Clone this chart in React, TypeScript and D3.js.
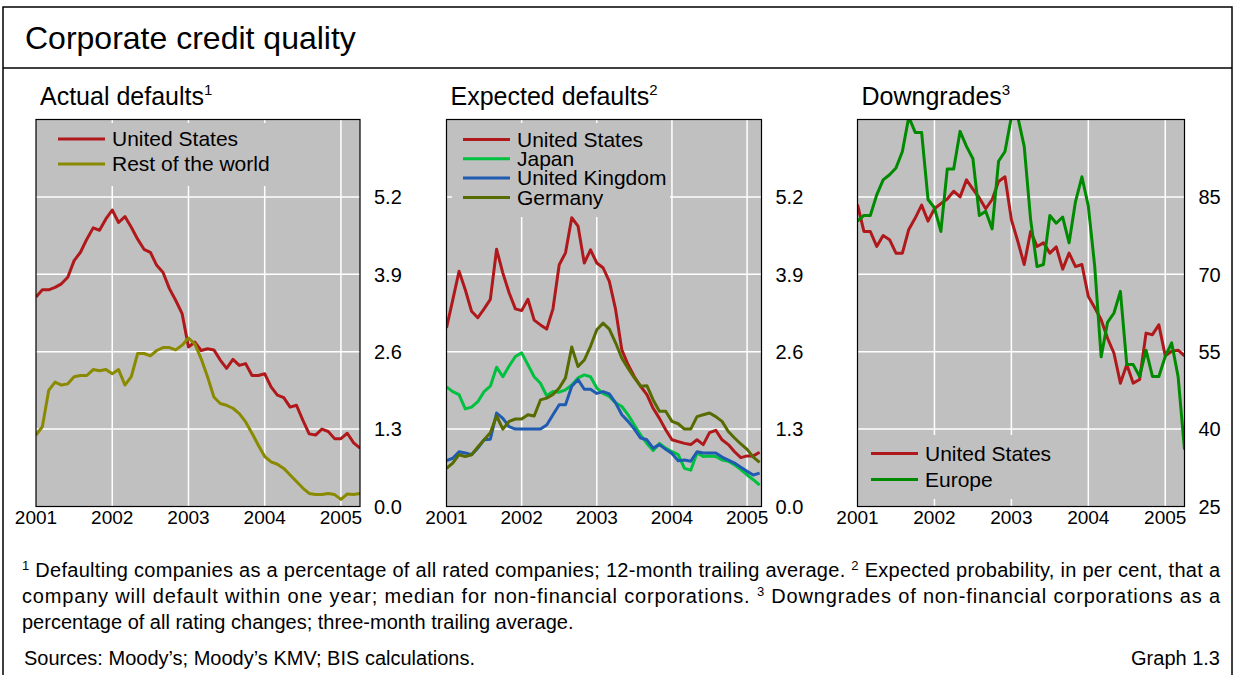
import React from 'react';
import * as d3 from 'd3';

// monthly observations, starting January 2001
const years = ['2001', '2002', '2003', '2004', '2005'];
const defaultTicks = [0, 1.3, 2.6, 3.9, 5.2];
const downgradeTicks = [25, 40, 55, 70, 85];

const actualUS = [3.52, 3.64, 3.64, 3.68, 3.74, 3.85, 4.13, 4.27, 4.49, 4.68, 4.64, 4.83, 4.98, 4.77, 4.87, 4.69, 4.49, 4.32, 4.27, 4.05, 3.93, 3.66, 3.46, 3.24, 2.68, 2.76, 2.62, 2.65, 2.63, 2.46, 2.32, 2.47, 2.37, 2.4, 2.2, 2.2, 2.23, 2.01, 1.87, 1.83, 1.67, 1.7, 1.45, 1.22, 1.2, 1.3, 1.26, 1.14, 1.14, 1.23, 1.07, 0.98];
const actualRoW = [1.2, 1.34, 1.95, 2.09, 2.04, 2.06, 2.18, 2.2, 2.2, 2.3, 2.28, 2.3, 2.23, 2.3, 2.04, 2.18, 2.57, 2.57, 2.53, 2.62, 2.67, 2.67, 2.63, 2.71, 2.83, 2.73, 2.48, 2.18, 1.84, 1.73, 1.7, 1.65, 1.56, 1.42, 1.23, 1.03, 0.84, 0.75, 0.71, 0.64, 0.53, 0.42, 0.31, 0.22, 0.2, 0.2, 0.22, 0.2, 0.12, 0.21, 0.2, 0.22];

const expectedUS = [3.0, 3.47, 3.95, 3.64, 3.28, 3.17, 3.32, 3.48, 4.32, 3.92, 3.59, 3.32, 3.29, 3.48, 3.13, 3.05, 2.98, 3.32, 4.06, 4.26, 4.85, 4.71, 4.09, 4.31, 4.09, 4.01, 3.78, 3.31, 2.63, 2.38, 2.18, 2.02, 1.88, 1.65, 1.48, 1.29, 1.12, 1.09, 1.06, 1.04, 1.12, 1.04, 1.24, 1.28, 1.12, 1.04, 0.92, 0.82, 0.85, 0.85, 0.91];
const expectedJapan = [2.01, 1.93, 1.88, 1.64, 1.67, 1.76, 1.93, 2.02, 2.34, 2.18, 2.36, 2.52, 2.58, 2.38, 2.18, 2.07, 1.86, 1.93, 1.92, 1.96, 2.04, 2.16, 2.21, 2.18, 1.99, 1.9, 1.85, 1.74, 1.68, 1.54, 1.37, 1.2, 1.06, 0.94, 1.06, 0.98, 0.92, 0.87, 0.64, 0.61, 0.9, 0.84, 0.85, 0.84, 0.78, 0.76, 0.7, 0.62, 0.53, 0.45, 0.36];
const expectedUK = [0.77, 0.81, 0.92, 0.9, 0.87, 0.98, 1.12, 1.13, 1.57, 1.48, 1.34, 1.3, 1.3, 1.3, 1.3, 1.3, 1.37, 1.54, 1.71, 1.71, 2.02, 2.13, 1.97, 1.97, 1.9, 1.93, 1.89, 1.74, 1.54, 1.43, 1.3, 1.15, 1.12, 0.98, 1.04, 0.96, 0.89, 0.77, 0.78, 0.76, 0.92, 0.9, 0.9, 0.9, 0.83, 0.78, 0.73, 0.66, 0.59, 0.53, 0.56];
const expectedGermany = [0.64, 0.73, 0.87, 0.84, 0.87, 1.0, 1.12, 1.24, 1.52, 1.3, 1.43, 1.47, 1.47, 1.54, 1.52, 1.79, 1.82, 1.88, 1.99, 2.16, 2.68, 2.35, 2.46, 2.69, 2.97, 3.08, 2.98, 2.75, 2.49, 2.32, 2.16, 2.02, 2.03, 1.79, 1.6, 1.6, 1.43, 1.39, 1.3, 1.3, 1.51, 1.54, 1.57, 1.51, 1.43, 1.26, 1.15, 1.05, 0.96, 0.83, 0.74];

const downgradesUS = [83.5, 78.3, 78.3, 75.4, 77.5, 76.7, 74.1, 74.1, 78.7, 80.9, 83.4, 80.3, 82.7, 83.7, 84.6, 86.1, 85.0, 88.3, 86.5, 84.8, 82.7, 84.5, 88.0, 88.9, 80.6, 76.4, 71.9, 78.3, 75.4, 76.1, 74.1, 75.3, 71.0, 74.1, 71.5, 71.9, 65.7, 63.5, 61.2, 57.6, 54.7, 48.9, 52.5, 48.9, 49.6, 58.6, 58.3, 60.2, 54.2, 55.1, 55.3, 54.2];
const downgradesEurope = [80.3, 81.4, 81.4, 85.4, 88.3, 89.3, 90.6, 93.8, 100.5, 97.5, 97.5, 84.5, 82.9, 78.3, 90.4, 90.4, 97.7, 94.8, 92.4, 81.4, 82.2, 78.8, 91.9, 93.8, 100.5, 100.5, 94.8, 80.6, 71.5, 71.9, 81.4, 79.9, 81.1, 76.1, 84.1, 88.9, 83.2, 71.5, 54.0, 60.7, 62.5, 66.7, 52.5, 52.5, 50.2, 55.3, 50.2, 50.2, 54.1, 56.7, 50.2, 36.0];

const FONT = '"Liberation Sans", Arial, Helvetica, sans-serif';
const RED = '#b0191c';
const TOP = 119.5;
const BOTTOM = 506.5;

type Series = { name: string; color: string; values: number[] };

type PanelProps = {
  id: string;
  title: string;
  note: string;
  left: number;
  right: number;
  xMax: number;
  yDomain: [number, number];
  ticks: number[];
  fmt: (v: number) => string;
  series: Series[];
  legend: { x: number; y: number; step: number; box: [number, number, number, number] };
};

function Panel({ id, title, note, left, right, xMax, yDomain, ticks, fmt, series, legend }: PanelProps) {
  const x = d3.scaleLinear().domain([0, xMax]).range([left, right]);
  const y = d3.scaleLinear().domain(yDomain).range([BOTTOM, TOP]);
  const line = d3.line<number>().x((_, i) => x(i)).y((d) => y(d));
  const yearMonths = years.map((_, i) => i * 12);
  const [bx, by, bw, bh] = legend.box;

  return (
    <g>
      <defs>
        <clipPath id={`clip-${id}`}>
          <rect x={left} y={TOP} width={right - left} height={BOTTOM - TOP} />
        </clipPath>
      </defs>
      <text x={left + 4} y={105} fontSize={25}>
        {title}
        <tspan fontSize={15} dy={-10}>{note}</tspan>
      </text>
      <rect x={left} y={TOP} width={right - left} height={BOTTOM - TOP} fill="#c0c0c0" />
      {ticks.filter((t) => t !== yDomain[0]).map((t) => (
        <line key={t} x1={left} x2={right} y1={y(t)} y2={y(t)} stroke="#fff" strokeWidth={1.5} />
      ))}
      {yearMonths.slice(1).map((m) => (
        <line key={m} x1={x(m)} x2={x(m)} y1={TOP} y2={BOTTOM} stroke="#fff" strokeWidth={1.5} />
      ))}
      <rect x={bx} y={by} width={bw} height={bh} fill="#c0c0c0" />
      <g clipPath={`url(#clip-${id})`}>
        {series.map((s) => (
          <path key={s.name} d={line(s.values) ?? ''} fill="none" stroke={s.color} strokeWidth={3} strokeLinejoin="round" />
        ))}
      </g>
      <rect x={left} y={TOP} width={right - left} height={BOTTOM - TOP} fill="none" stroke="#000" strokeWidth={1.2} />
      {series.map((s, i) => (
        <g key={s.name} transform={`translate(${legend.x},${legend.y + i * legend.step})`}>
          <line x1={0} x2={47} y1={0} y2={0} stroke={s.color} strokeWidth={3} />
          <text x={54} y={0} dy="0.35em" fontSize={21}>{s.name}</text>
        </g>
      ))}
      {ticks.map((t) => (
        <text key={t} x={right + 14} y={y(t)} dy="0.36em" fontSize={20}>{fmt(t)}</text>
      ))}
      {years.map((yr, i) => (
        <text key={yr} x={x(yearMonths[i])} y={524} textAnchor="middle" fontSize={19}>{yr}</text>
      ))}
    </g>
  );
}

export default function App() {
  const f1 = d3.format('.1f');
  const f0 = d3.format('d');
  return (
    <svg width={1234} height={675} style={{ position: 'absolute', left: 0, top: 0, display: 'block', background: '#fff' }} fontFamily={FONT}>
      <rect x={3} y={7} width={1229} height={680} fill="none" stroke="#000" strokeWidth={1.5} />
      <line x1={3} x2={1232} y1={68} y2={68} stroke="#000" strokeWidth={1.5} />
      <text x={25} y={49} fontSize={32}>Corporate credit quality</text>

      <Panel
        id="p1" title="Actual defaults" note="1"
        left={36} right={360} xMax={51}
        yDomain={[0, 6.5]} ticks={defaultTicks} fmt={f1}
        series={[
          { name: 'United States', color: RED, values: actualUS },
          { name: 'Rest of the world', color: '#8a8a00', values: actualRoW },
        ]}
        legend={{ x: 58, y: 139, step: 25, box: [41, 123, 232, 63] }}
      />
      <Panel
        id="p2" title="Expected defaults" note="2"
        left={446.5} right={761.5} xMax={50.3}
        yDomain={[0, 6.5]} ticks={defaultTicks} fmt={f1}
        series={[
          { name: 'United States', color: RED, values: expectedUS },
          { name: 'Japan', color: '#00c040', values: expectedJapan },
          { name: 'United Kingdom', color: '#1f5bb0', values: expectedUK },
          { name: 'Germany', color: '#566b00', values: expectedGermany },
        ]}
        legend={{ x: 463, y: 139.5, step: 19.3, box: [452, 123, 218, 94] }}
      />
      <Panel
        id="p3" title="Downgrades" note="3"
        left={857.5} right={1184.5} xMax={51}
        yDomain={[25, 100]} ticks={downgradeTicks} fmt={f0}
        series={[
          { name: 'United States', color: RED, values: downgradesUS },
          { name: 'Europe', color: '#008a00', values: downgradesEurope },
        ]}
        legend={{ x: 871, y: 453.5, step: 26, box: [862, 435, 196, 64] }}
      />

      <g fontSize={20} style={{ whiteSpace: 'pre' }}>
        <text x={22} y={577} textLength={1198} lengthAdjust="spacing">
          <tspan fontSize={13} dy={-7}>1</tspan>
          <tspan dy={7}>  Defaulting companies as a percentage of all rated companies; 12-month trailing average.  </tspan>
          <tspan fontSize={13} dy={-7}>2</tspan>
          <tspan dy={7}>  Expected probability, in per cent, that a</tspan>
        </text>
        <text x={22} y={603} textLength={1198} lengthAdjust="spacing">
          company will default within one year; median for non-financial corporations.  <tspan fontSize={13} dy={-7}>3</tspan>
          <tspan dy={7}> Downgrades of non-financial corporations as a</tspan>
        </text>
        <text x={22} y={629}>percentage of all rating changes; three-month trailing average.</text>
        <text x={24} y={665}>Sources: Moody’s; Moody’s KMV; BIS calculations.</text>
        <text x={1220} y={665} textAnchor="end">Graph 1.3</text>
      </g>
    </svg>
  );
}
